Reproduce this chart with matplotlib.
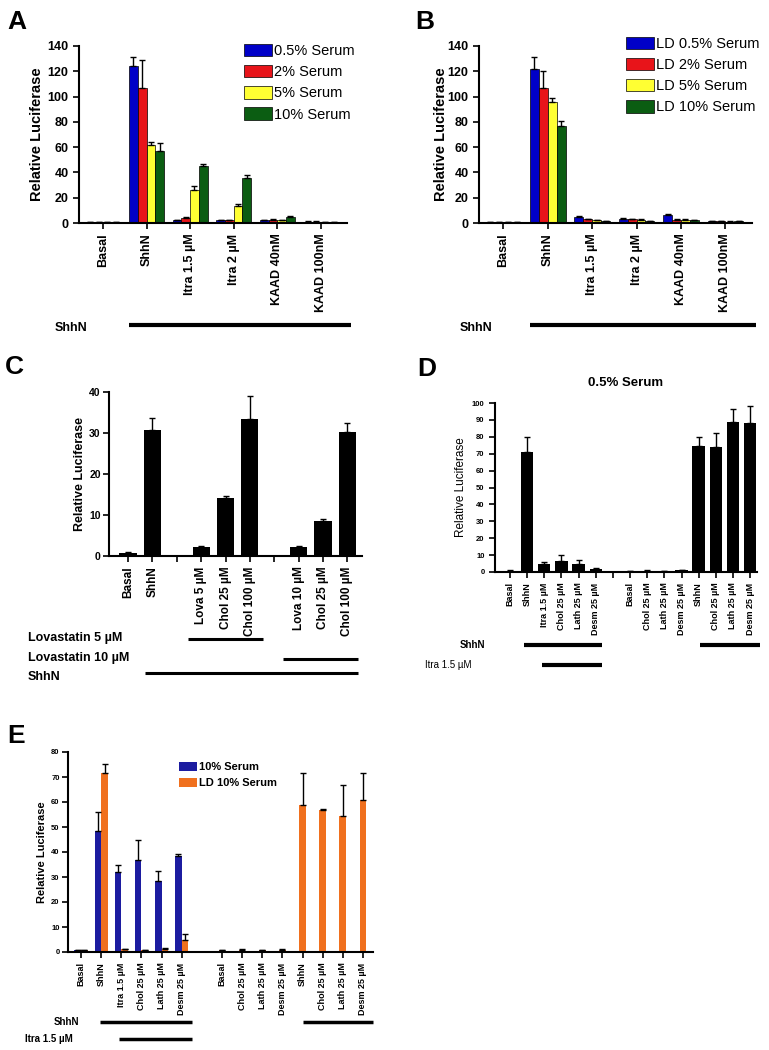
import numpy as np
import matplotlib
matplotlib.use("Agg")
import matplotlib.pyplot as plt
from matplotlib.transforms import blended_transform_factory

plt.rcParams['font.family'] = ['Liberation Sans', 'DejaVu Sans']
plt.rcParams['font.weight'] = 'bold'
plt.rcParams['axes.labelweight'] = 'bold'

W, H = 769, 1050

# ---- panel A / B data (4 serum conditions) ----
ab_cats = ["Basal", "ShhN", "Itra 1.5 \u00b5M", "Itra 2 \u00b5M", "KAAD 40nM", "KAAD 100nM"]
ab_colors = ["#0000c8", "#e8141a", "#ffff33", "#0b5d12"]

a_labels = ["0.5% Serum", "2% Serum", "5% Serum", "10% Serum"]
a_05 = [0.8, 124, 2.0, 2.0, 2.2, 1.0]
a_05_err = [0.2, 7, 0.5, 0.3, 0.3, 0.2]
a_2 = [0.8, 107, 4.0, 2.0, 2.5, 1.0]
a_2_err = [0.2, 22, 0.8, 0.3, 0.3, 0.2]
a_5 = [0.6, 62, 26, 13.5, 2.2, 0.6]
a_5_err = [0.1, 2, 3, 1.5, 0.3, 0.1]
a_10 = [0.8, 57, 45, 35.5, 4.5, 0.8]
a_10_err = [0.1, 6, 1.5, 2.5, 1.0, 0.1]

b_labels = ["LD 0.5% Serum", "LD 2% Serum", "LD 5% Serum", "LD 10% Serum"]
b_05 = [0.8, 122, 5.0, 3.5, 6.5, 1.2]
b_05_err = [0.2, 9, 0.5, 0.5, 1.0, 0.2]
b_2 = [0.6, 107, 3.0, 3.0, 2.5, 1.2]
b_2_err = [0.2, 13, 0.5, 0.5, 0.5, 0.2]
b_5 = [0.6, 96, 2.0, 2.5, 2.5, 1.0]
b_5_err = [0.1, 3, 0.3, 0.4, 0.3, 0.2]
b_10 = [0.6, 77, 1.5, 1.5, 2.0, 1.2]
b_10_err = [0.1, 3.5, 0.3, 0.3, 0.3, 0.2]

# ---- panel C ----
c_cats = ["Basal", "ShhN", "", "Lova 5 \u00b5M", "Chol 25 \u00b5M", "Chol 100 \u00b5M",
          "", "Lova 10 \u00b5M", "Chol 25 \u00b5M", "Chol 100 \u00b5M"]
c_vals = [0.8, 30.7, np.nan, 2.1, 14.2, 33.5, np.nan, 2.2, 8.6, 30.2]
c_err = [0.1, 3.0, np.nan, 0.3, 0.4, 5.5, np.nan, 0.2, 0.5, 2.3]

# ---- panel D / E ----
de_cats = ["Basal", "ShhN", "Itra 1.5 \u00b5M", "Chol 25 \u00b5M", "Lath 25 \u00b5M", "Desm 25 \u00b5M", "",
           "Basal", "Chol 25 \u00b5M", "Lath 25 \u00b5M", "Desm 25 \u00b5M",
           "ShhN", "Chol 25 \u00b5M", "Lath 25 \u00b5M", "Desm 25 \u00b5M"]
d_vals = [0.8, 71.3, 5.0, 6.3, 5.0, 2.0, np.nan, 0.6, 0.8, 0.7, 1.0, 74.3, 73.7, 88.7, 88.1]
d_err = [0.1, 8.5, 0.8, 3.6, 1.9, 0.3, np.nan, 0.1, 0.1, 0.1, 0.2, 5.3, 8.5, 7.9, 10.3]

e_blue = [0.8, 48.5, 32, 36.7, 28.3, 38.4, np.nan,
          np.nan, np.nan, np.nan, np.nan, np.nan, np.nan, np.nan, np.nan]
e_blue_err = [0.1, 7.4, 2.7, 8.1, 4.1, 1.0, np.nan,
              np.nan, np.nan, np.nan, np.nan, np.nan, np.nan, np.nan, np.nan]
e_orange = [0.8, 71.7, 1.2, 0.8, 1.3, 4.7, np.nan, 0.8, 1.0, 0.8, 1.0, 59, 56.9, 54.6, 61]
e_orange_err = [0.1, 3.4, 0.2, 0.2, 0.3, 2.7, np.nan, 0.1, 0.2, 0.1, 0.2, 12.5, 0.3, 12.2, 10.5]


def add_ax(x0, x1, y0, y1):
    # pixel box -> figure fraction
    return fig.add_axes([x0 / W, 1 - y1 / H, (x1 - x0) / W, (y1 - y0) / H])


def style(ax, xfs, yfs):
    for s in ["top", "right"]:
        ax.spines[s].set_visible(False)
    for s in ["left", "bottom"]:
        ax.spines[s].set_linewidth(1.5)
    ax.tick_params(axis="both", width=1.2, length=4)
    ax.tick_params(axis="x", labelsize=xfs, rotation=90)
    ax.tick_params(axis="y", labelsize=yfs)


def upper(err):
    err = np.asarray(err, dtype=float)
    return [np.zeros_like(err), err]


ekw = dict(ecolor="black", elinewidth=1, capsize=2, capthick=1)


def treat_line(ax, x0, x1, ypix, lw):
    tr = blended_transform_factory(ax.transData, fig.transFigure)
    ax.plot([x0, x1], [1 - ypix / H] * 2, color="black", lw=lw, transform=tr,
            clip_on=False, solid_capstyle="butt")


fig = plt.figure(figsize=(W / 100, H / 100), dpi=100)

# ---------------- A & B ----------------
for box, series, labels, lab_x, shhn_x, letter, lpos in [
        ((79, 347, 46, 223), [(a_05, a_05_err), (a_2, a_2_err), (a_5, a_5_err), (a_10, a_10_err)],
         a_labels, -0.131, 55, ("A", 7), (0.617, 1.01)),
        ((479, 752, 46, 223), [(b_05, b_05_err), (b_2, b_2_err), (b_5, b_5_err), (b_10, b_10_err)],
         b_labels, -0.114, 460, ("B", 415), (0.54, 1.05))]:
    ax = add_ax(*box)
    x = np.arange(len(ab_cats))
    for i, ((v, e), col, lab) in enumerate(zip(series, ab_colors, labels)):
        ax.bar(x + (i - 1.5) * 0.2, v, 0.2, yerr=upper(e), color=col, edgecolor="black",
               linewidth=0.5, label=lab, error_kw=ekw)
    ax.set_xticks(x)
    ax.set_xticklabels(ab_cats)
    ax.set_xlim(-0.55, 5.6)
    ax.set_ylim(0, 140)
    ax.set_yticks(range(0, 141, 20))
    style(ax, 9, 9)
    ax.set_ylabel("Relative Luciferase", fontsize=10.5)
    ax.yaxis.set_label_coords(lab_x, 0.5)
    ax.legend(loc="upper left", bbox_to_anchor=lpos, frameon=False,
              prop=dict(size=10.5, weight="normal"), handlelength=1.9,
              handleheight=0.9, handletextpad=0.15, labelspacing=0.48,
              borderpad=0, borderaxespad=0)
    treat_line(ax, 0.6, 5.7, 325, 3)
    fig.text(shhn_x / W, 1 - 328 / H, "ShhN", fontsize=9, va="center", ha="left")
    fig.text(letter[1] / W, 1 - 10 / H, letter[0], fontsize=19, va="top")

# ---------------- C ----------------
ax = add_ax(109, 362, 392, 556)
x = np.arange(len(c_cats))
ax.bar(x, c_vals, 0.7, yerr=upper(c_err), color="black", error_kw=ekw)
ax.set_xticks(x)
ax.set_xticklabels(c_cats)
ax.set_xlim(-0.78, 9.6)
ax.set_ylim(0, 40)
ax.set_yticks(range(0, 41, 10))
style(ax, 8.5, 7.5)
ax.tick_params(axis="y", pad=2)
ax.set_ylabel("Relative Luciferase", fontsize=9)
ax.yaxis.set_label_coords(-0.09, 0.5)
treat_line(ax, 2.45, 5.55, 639, 2.2)
treat_line(ax, 6.35, 9.45, 659, 2.2)
treat_line(ax, 0.7, 9.45, 673, 2.2)
for txt, yp in [("Lovastatin 5 \u00b5M", 638), ("Lovastatin 10 \u00b5M", 658), ("ShhN", 677)]:
    fig.text(28 / W, 1 - yp / H, txt, fontsize=9, va="center", ha="left")
fig.text(5 / W, 1 - 355 / H, "C", fontsize=19, va="top")

# ---------------- D ----------------
ax = add_ax(495, 757, 403, 572)
x = np.arange(len(de_cats))
ax.bar(x, d_vals, 0.72, yerr=upper(d_err), color="black", error_kw=ekw)
ax.set_xticks(x)
ax.set_xticklabels(de_cats)
ax.set_xlim(-0.87, 14.4)
ax.set_ylim(0, 100)
ax.set_yticks(range(0, 101, 10))
style(ax, 6.5, 5.5)
ax.set_ylabel("Relative Luciferase", fontsize=8.5, fontweight="normal")
ax.yaxis.set_label_coords(-0.105, 0.5)
ax.set_title("0.5% Serum", fontsize=9.5, fontweight="bold", pad=12)
treat_line(ax, 0.82, 5.37, 645, 3)
treat_line(ax, 11.1, 14.6, 645, 3)
treat_line(ax, 1.87, 5.37, 665, 3)
fig.text(485 / W, 1 - 645 / H, "ShhN", fontsize=7, va="center", ha="right")
fig.text(425 / W, 1 - 665 / H, "Itra 1.5 \u00b5M", fontsize=7, va="center", ha="left",
         fontweight="normal")
fig.text(417 / W, 1 - 357 / H, "D", fontsize=19, va="top")

# ---------------- E ----------------
ax = add_ax(68, 373, 752, 952)
x = np.arange(len(de_cats))
bw = 0.33
blue = np.asarray(e_blue, dtype=float)
paired = ~np.isnan(blue)
ax.bar(x - bw / 2, e_blue, bw, yerr=upper(e_blue_err), color="#1c1ca0",
       label="10% Serum", error_kw=ekw)
ax.bar(x + np.where(paired, bw / 2, 0), e_orange, bw, yerr=upper(e_orange_err),
       color="#f0701e", label="LD 10% Serum", error_kw=ekw)
keep = [i for i, c in enumerate(de_cats) if c]
ax.set_xticks(x[keep])
ax.set_xticklabels([de_cats[i] for i in keep])
ax.set_xlim(-0.65, 14.5)
ax.set_ylim(0, 80)
ax.set_yticks(range(0, 81, 10))
style(ax, 6.5, 5.5)
ax.tick_params(axis="y", pad=2)
ax.set_ylabel("Relative Luciferase", fontsize=8)
ax.yaxis.set_label_coords(-0.07, 0.5)
ax.legend(loc="upper left", bbox_to_anchor=(0.365, 0.95), frameon=False,
          prop=dict(size=8, weight="bold"), handlelength=1.6, handleheight=0.9,
          handletextpad=0.15, labelspacing=0.5, borderpad=0, borderaxespad=0)
treat_line(ax, 0.95, 5.52, 1022, 2.5)
treat_line(ax, 11.0, 14.48, 1022, 2.5)
treat_line(ax, 1.9, 5.52, 1039, 2.5)
fig.text(79 / W, 1 - 1022 / H, "ShhN", fontsize=7, va="center", ha="right")
fig.text(25 / W, 1 - 1039 / H, "Itra 1.5 \u00b5M", fontsize=7, va="center", ha="left")
fig.text(7 / W, 1 - 724 / H, "E", fontsize=19, va="top")

fig.savefig("out.png", dpi=100)
